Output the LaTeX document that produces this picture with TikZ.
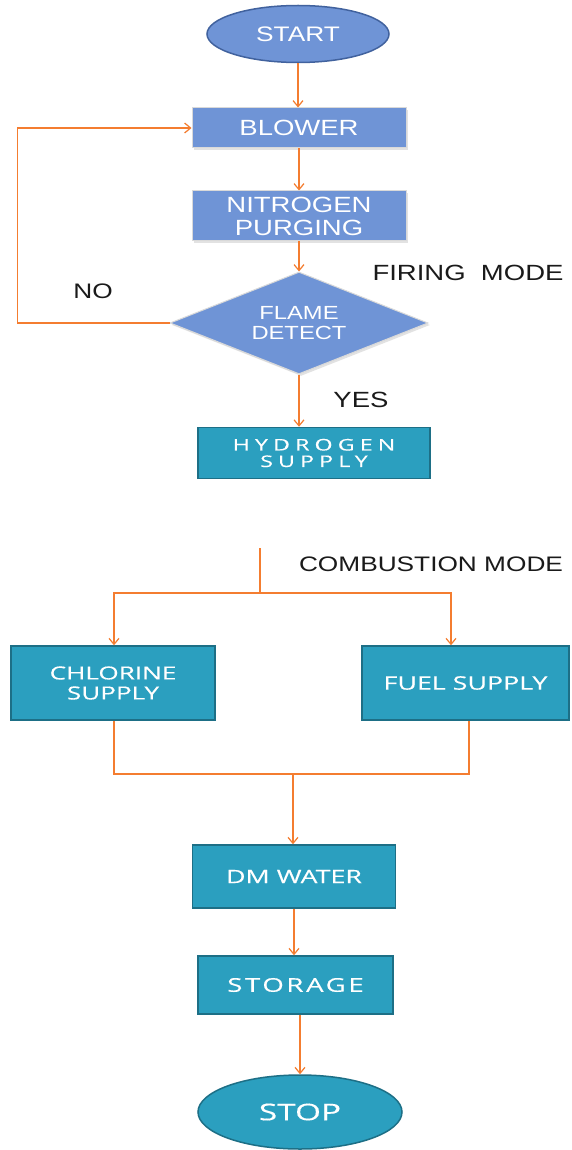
\documentclass[tikz,border=0pt]{standalone}
\usepackage{fontspec}
\newfontfamily\arx[FakeStretch=1.25]{Liberation Sans}
\newfontfamily\opx[FakeStretch=1.45,FakeBold=0.4]{Open Sans}
\newfontfamily\opxh[FakeStretch=1.45,FakeBold=0.4,LetterSpace=32]{Open Sans}
\newfontfamily\opxs[FakeStretch=1.45,FakeBold=0.4,LetterSpace=14]{Open Sans}
\usetikzlibrary{shapes.geometric,arrows.meta,shadows}
\definecolor{bluef}{HTML}{6F94D6}
\definecolor{blued}{HTML}{41629E}
\definecolor{tealf}{HTML}{2B9FBF}
\definecolor{teald}{HTML}{1D6F86}
\definecolor{orng}{HTML}{F47D30}
\definecolor{lblc}{HTML}{1A1A1A}
\begin{document}
\begin{tikzpicture}[x=1pt,y=-1pt,
 bluebox/.style={rectangle, fill=bluef, draw=white!85!black, line width=1pt,
   drop shadow={shadow xshift=2pt, shadow yshift=-2pt, fill=black!22},
   text=white, inner sep=0pt, align=center},
 tealbox/.style={rectangle, fill=tealf, draw=teald, line width=1.5pt,
   text=white, inner sep=0pt, align=center},
 conn/.style={draw=orng, line width=1.4pt},
 arr/.style={conn, -{Straight Barb[length=6pt,width=10pt,line width=1.2pt]}},
 lbl/.style={text=lblc, inner sep=0pt}]
\useasboundingbox[fill=white] (0,0) rectangle (571,1150);

% upper part
\node[ellipse, fill=bluef, draw=blued, line width=1.5pt, minimum width=182pt,
  minimum height=57pt, inner sep=0pt, text=white,
  font=\arx\fontsize{21}{23}\selectfont] (start) at (298,34) {START};
\node[bluebox, minimum width=214pt, minimum height=40pt,
  font=\arx\fontsize{22}{24}\selectfont] (blower) at (299,128) {BLOWER};
\node[bluebox, minimum width=214pt, minimum height=50pt,
  font=\arx\fontsize{22}{23}\selectfont] (nitro) at (299,216) {NITROGEN\\PURGING};
\node[diamond, fill=bluef, draw=white!85!black, line width=1pt,
  drop shadow={shadow xshift=2pt, shadow yshift=-2pt, fill=black!22},
  minimum width=258pt, minimum height=102pt, aspect=2.53, inner sep=0pt,
  text=white, align=center, font=\arx\fontsize{19}{20}\selectfont]
  (flame) at (299,323) {FLAME\\DETECT};
\node[tealbox, minimum width=232pt, minimum height=51pt,
  font=\opxh\fontsize{16}{16.5}\selectfont]
  (hyd) at (314,453) {HYDROGEN\\SUPPLY};

\node[lbl, font=\arx\fontsize{21}{23}\selectfont] (no) at (93,291) {NO};
\node[lbl, font=\arx\fontsize{22}{24}\selectfont] (yes) at (361,400) {YES};
\node[lbl, font=\arx\fontsize{22}{24}\selectfont] (firing) at (468,273) {FIRING~~MODE};

\draw[arr] (start.south) -- (start.south |- blower.north);
\draw[arr] (blower.south) -- (blower.south |- nitro.north);
\draw[arr] (nitro.south) -- (flame.north);
\draw[arr] (flame.south) -- (flame.south |- hyd.north);
\draw[arr] (flame.west) -- ++(-152,0) |- (blower.west);

% lower part
\node[tealbox, minimum width=204pt, minimum height=74pt,
  font=\opx\fontsize{18}{20}\selectfont] (chl) at (113,683) {CHLORINE\\SUPPLY};
\node[tealbox, minimum width=207pt, minimum height=74pt,
  font=\opx\fontsize{18.5}{20}\selectfont] (fuel) at (465.5,683) {FUEL SUPPLY};
\node[tealbox, minimum width=203pt, minimum height=63pt,
  font=\opx\fontsize{18.5}{20}\selectfont] (dm) at (294,876.5) {DM WATER};
\node[tealbox, minimum width=195pt, minimum height=58pt,
  font=\opxs\fontsize{19}{20}\selectfont]
  (st) at (295.5,985) {STORAGE};
\node[ellipse, fill=tealf, draw=teald, line width=1.5pt, minimum width=204pt,
  minimum height=74pt, inner sep=0pt, text=white,
  font=\opx\fontsize{23}{25}\selectfont] (stop) at (300,1112) {STOP};

\node[lbl, font=\arx\fontsize{21}{23}\selectfont] (comb) at (431,564) {COMBUSTION MODE};

\coordinate (ctop) at (260,548);
\coordinate (csplit) at (260,593);
\coordinate (cmerge) at (293,774);
\draw[conn] (ctop) -- (csplit);
\draw[arr] (csplit) -| ([xshift=1pt]chl.north);
\draw[arr] (csplit) -| ([xshift=-14.5pt]fuel.north);
\draw[conn] ([xshift=1pt]chl.south) |- (cmerge) -| ([xshift=3.5pt]fuel.south);
\draw[arr] (cmerge) -- (cmerge |- dm.north);
\draw[arr] (dm.south) -- (dm.south |- st.north);
\draw[arr] (stop.north |- st.south) -- (stop.north);
\end{tikzpicture}
\end{document}
